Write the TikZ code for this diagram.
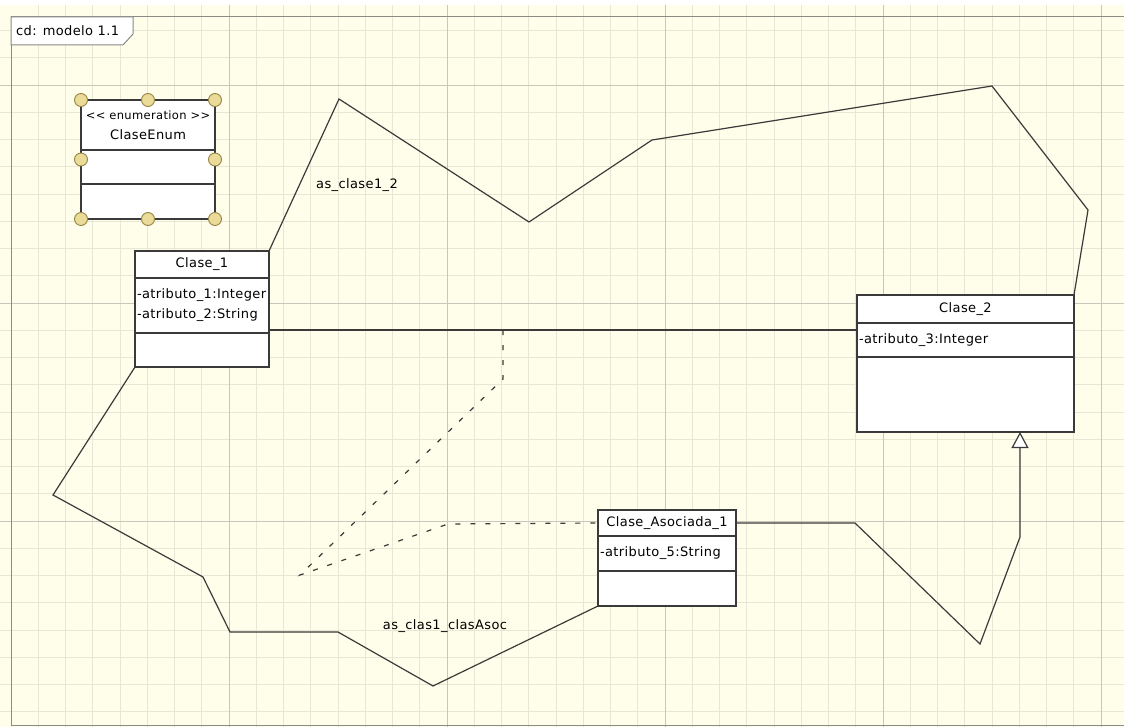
\documentclass[tikz,border=0pt]{standalone}
\usepackage{fontspec}
\setmainfont{DejaVu Sans}[LetterSpace=3.0]
\usetikzlibrary{positioning,calc,arrows.meta}
\definecolor{sheet}{HTML}{FFFEEA}
\definecolor{minorline}{HTML}{E8E6D4}
\definecolor{majorline}{HTML}{C9C7BC}
\definecolor{framegray}{HTML}{8A8A86}
\definecolor{ink}{HTML}{3A3A3A}
\definecolor{handlefill}{HTML}{EADB98}
\definecolor{handledraw}{HTML}{958545}
\hyphenpenalty=10000
\exhyphenpenalty=10000
\tikzset{%
minorgrid/.style={draw=minorline,line width=0.8pt},
majorgrid/.style={draw=majorline,line width=0.9pt},
frameline/.style={draw=framegray,line width=1pt},
framelabel/.style={inner sep=0pt,anchor=west},
classhead/.style={draw=ink,fill=white,line width=1.3pt,inner sep=0pt,outer sep=0pt,anchor=north west},
classpart/.style={draw=ink,fill=white,line width=1.3pt,inner xsep=2pt,inner ysep=0pt,outer sep=0pt,align=left},
handle/.style={draw=handledraw,fill=handlefill,circle,minimum size=13pt,inner sep=0pt,line width=0.9pt},
assoc/.style={draw=ink,line width=1.2pt},
assocdash/.style={draw=ink,line width=1.2pt,dash pattern=on 5pt off 10pt},
generalization/.style={assoc,-{Triangle[length=16pt,width=17pt,fill=white]}},
linklabel/.style={inner sep=1pt}
}

\begin{document}
\begin{tikzpicture}[x=1pt,y=-1pt,font=\fontsize{13}{20}\selectfont]

    \useasboundingbox (0,0) rectangle (1124,727);
    \fill[sheet] (0,5) rectangle (1124,727);
    \foreach \k in {1,...,41}
      \draw[minorgrid] ({11+27.25*\k},5) -- ({11+27.25*\k},727);
    \foreach \j in {1,...,26}
      \draw[minorgrid] (0,{3.25+27.25*\j}) -- (1124,{3.25+27.25*\j});
    \foreach \k in {1,...,5}
      \draw[majorgrid] ({11+218*\k},5) -- ({11+218*\k},727);
    \foreach \j in {0,1,2}
      \draw[majorgrid] (0,{85+218*\j}) -- (1124,{85+218*\j});

    \draw[frameline] (1124,17) -- (11,17) -- (11,725) -- (1124,725);
    \draw[frameline,fill=white] (11,17) -- (133,17) -- (133,34) -- (123,45) -- (11,45) -- cycle;
    \node[framelabel] (diagram) at (16,31) {cd: modelo 1.1};

    \node[classhead,minimum width=134pt,minimum height=50pt,align=center] (enumhead) at (81,100)
      {{\fontsize{11.5}{21}\selectfont <{}< enumeration >{}>}\\ClaseEnum};
    \node[classpart,text width=130pt,minimum height=34pt,below=0pt of enumhead] (enumattr) {};
    \node[classpart,text width=130pt,minimum height=35pt,below=0pt of enumattr] (enumops) {};
    \foreach \a in {north west,north,north east}
      \node[handle] (top \a) at (enumhead.\a) {};
    \foreach \s in {west,east}
      \node[handle] (mid \s) at ($(enumhead.north \s)!.5!(enumops.south \s)$) {};
    \foreach \a in {south west,south,south east}
      \node[handle] (bottom \a) at (enumops.\a) {};

    \node[classhead,minimum width=134pt,minimum height=27pt] (c1name) at (135,251) {Clase\_1};
    \node[classpart,text width=130pt,minimum height=55pt,below=0pt of c1name] (c1attr)
      {-atributo\_1:Integer\\-atributo\_2:String};
    \node[classpart,text width=130pt,minimum height=34pt,below=0pt of c1attr] (c1ops) {};

    \node[classhead,minimum width=217pt,minimum height=28pt] (c2name) at (857,295) {Clase\_2};
    \node[classpart,text width=213pt,minimum height=34pt,below=0pt of c2name] (c2attr)
      {-atributo\_3:Integer};
    \node[classpart,text width=213pt,minimum height=75pt,below=0pt of c2attr] (c2ops) {};

    \node[classhead,minimum width=138pt,minimum height=26pt] (asocname) at (598,510) {Clase\_Asociada\_1};
    \node[classpart,text width=134pt,minimum height=35pt,below=0pt of asocname] (asocattr)
      {-atributo\_5:String};
    \node[classpart,text width=134pt,minimum height=35pt,below=0pt of asocattr] (asocops) {};

    \coordinate (assocmid) at (503,330);
    \coordinate (genbend) at (1020,537);

    \draw[assoc] (c1name.north east) -- (339,99) -- (529,222) -- (652,140) -- (992,86)
      -- (1088,210) -- (c2name.north east);
    \draw[assoc] (c1attr.east |- assocmid) -- (c2attr.west |- assocmid);
    \draw[assoc] (c1ops.south west) -- (53,495) -- (203,577) -- (230,632) -- (338,632)
      -- (433,686) -- (asocops.south west);
    \draw[assocdash] (assocmid) -- (503,379) -- (300,575) -- (448,524) -- (asocname.west);
    \draw[generalization] (asocname.east) -- (855,523) -- (980,644) -- (genbend)
      -- (c2ops.south -| genbend);

    \node[linklabel] (c12label) at (357,185) {as\_clase1\_2};
    \node[linklabel] (asoclabel) at (445,626) {as\_clas1\_clasAsoc};

\end{tikzpicture}
\end{document}
